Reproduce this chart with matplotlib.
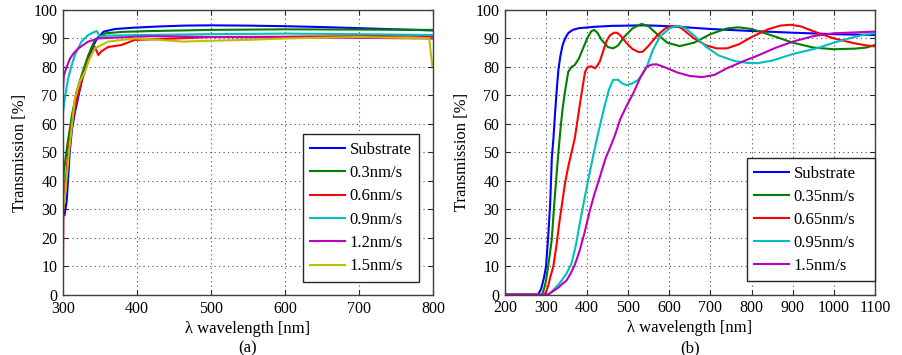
import matplotlib
matplotlib.use("Agg")
import matplotlib.pyplot as plt

plt.rcParams['font.family'] = ['Liberation Serif', 'DejaVu Serif']
plt.rcParams['font.size'] = 12

# MATLAB default line colours
colors = ["#0000ff", "#008000", "#ff0000", "#00bfbf", "#bf00bf", "#bfbf00"]

# ---- panel (a): deposition rates 0.3 - 1.5 nm/s ----
labels_a = ["Substrate", "0.3nm/s", "0.6nm/s", "0.9nm/s", "1.2nm/s", "1.5nm/s"]

wl_a_sub = [302, 305, 309, 312, 316, 321, 327, 334, 340, 346, 355, 370, 397, 430, 463, 500, 550, 600, 650, 700, 750, 800]
t_a_sub = [28, 33, 50, 58, 64, 70, 77, 83, 87, 90, 92.4, 93.3, 93.8, 94.2, 94.5, 94.6, 94.5, 94.3, 94.0, 93.6, 93.2, 92.8]

wl_a_03 = [300, 301, 302, 306, 312, 318, 325, 334, 343, 357, 380, 420, 500, 600, 700, 800]
t_a_03 = [33, 43, 45, 53, 63, 71, 77, 84, 89.5, 91.8, 92.3, 92.6, 93.0, 93.2, 93.1, 93.0]

wl_a_06 = [300, 300.5, 303, 307, 312, 318, 325, 334, 343, 347.7, 352, 361, 379, 397, 435, 500, 600, 700, 769, 800]
t_a_06 = [10, 30, 38, 50, 60, 68, 75, 82, 87, 84.2, 85.5, 87, 87.7, 89.5, 89.8, 90.5, 90.6, 90.8, 91.0, 90.8]

wl_a_09 = [300, 303, 307, 311, 316, 325, 334, 340, 345.5, 350, 360, 400, 500, 600, 700, 800]
t_a_09 = [64, 70, 76, 80, 84.2, 88.9, 91.2, 92.0, 92.6, 90.6, 91.0, 91.2, 91.5, 91.7, 91.5, 91.2]

wl_a_12 = [300, 301, 305, 309.5, 315, 320.7, 334, 347.7, 370, 420, 500, 600, 700, 800]
t_a_12 = [72, 77, 80, 83, 85, 86.5, 88.9, 90.0, 90.3, 90.8, 90.5, 90.3, 90.2, 90.0]

wl_a_15 = [300, 302.7, 308, 316, 323, 329.7, 336, 343, 361, 397, 430, 462, 500, 550, 600, 700, 795, 797, 799]
t_a_15 = [30, 34.5, 50, 69, 75, 78.4, 83, 86.5, 88.9, 90.0, 89.5, 88.9, 89.2, 89.5, 90.0, 90.5, 90.0, 85.0, 80.5]

# ---- panel (b): deposition rates 0.35 - 1.5 nm/s ----
labels_b = ["Substrate", "0.35nm/s", "0.65nm/s", "0.95nm/s", "1.5nm/s"]

wl_b_sub = [200, 280, 288, 295, 300, 305, 310, 314, 318, 322, 326, 330, 335, 340, 345, 350, 355, 365, 380,
            420, 460, 500, 540, 580, 620, 700, 800, 900, 1000, 1100]
t_b_sub = [0, 0, 2, 6, 10, 20, 32, 48, 55, 64, 72, 79, 84, 87.5, 89.5, 91, 92, 93, 93.6,
           94.1, 94.4, 94.5, 94.6, 94.4, 94.1, 93.3, 92.6, 92.0, 91.5, 91.2]

wl_b_035 = [200, 290, 295, 300, 307, 313.6, 320, 326, 330, 335, 340, 346, 354, 362, 370, 380, 390, 400, 410,
            417, 425, 435, 450, 463, 475, 490, 510, 532, 550, 570, 595, 625, 660, 700, 740, 768, 800, 850,
            900, 950, 1000, 1050, 1080, 1100]
t_b_035 = [0, 0, 2, 5, 12, 19, 32, 43, 50, 58, 65, 71.3, 78.3, 80, 80.7, 83, 86.5, 90, 92.5,
           93, 92, 89.5, 87, 86.5, 87.5, 90.5, 93.5, 95.1, 94.2, 91.5, 88.5, 87.3, 88.5, 91.5, 93.5, 93.9, 93.3, 91,
           88.5, 86.8, 86.2, 86.4, 86.8, 87.7]

wl_b_065 = [200, 295, 300, 305, 310, 317.5, 325, 332, 338, 346, 354, 362, 370, 382, 390, 395, 402, 410, 419,
            425, 431, 440, 447, 455, 465, 472, 480, 495, 510, 525, 535, 550, 570, 590, 605, 618, 630, 660,
            690, 715, 740, 770, 800, 840, 870, 895, 920, 960, 1000, 1050, 1080, 1100]
t_b_065 = [0, 0, 1, 3, 6, 9.8, 17, 25, 31, 39, 45, 50, 55, 66.6, 74, 78.3, 80, 80.2, 79.5,
           80.5, 82, 86, 89, 91, 92, 92, 91.2, 88.5, 86.3, 85.2, 85.3, 87.5, 91, 93.5, 94.3, 94.4, 93.5, 90,
           87.5, 86.5, 86.5, 88, 90.5, 93.2, 94.5, 94.8, 94.2, 92, 90, 88.3, 87.5, 87.2]

wl_b_095 = [200, 305, 310, 320, 330, 338, 350, 362, 372, 382, 392, 402, 415, 423, 432, 443, 453, 463, 475,
            485, 496, 510, 524, 535, 545, 560, 577, 600, 615, 626, 640, 660, 690, 720, 760, 790, 815, 850,
            900, 958, 1000, 1050, 1071, 1100]
t_b_095 = [0, 0, 0.5, 2, 3.5, 5, 7.5, 11, 17, 25, 32.5, 40, 49, 54.3, 60, 66.6, 72, 75.4, 75.5,
           74.2, 73.6, 74.2, 75.4, 77.5, 80, 86, 90.6, 93.5, 94.3, 94.3, 93.5, 91, 87, 84, 82, 81.4, 81.3, 82.2,
           84.5, 86.5, 88.5, 90.5, 91.2, 91.8]

wl_b_15 = [200, 305, 309.5, 320, 330, 340, 350, 360, 370, 382, 394, 406.8, 418, 431, 445, 455, 467.6, 480,
           495, 512, 530, 544.7, 557, 569, 590, 620, 650, 680, 710, 740, 780, 812, 860, 901, 950, 1000,
           1050, 1100]
t_b_15 = [0, 0, 0.5, 1.5, 2.5, 3.8, 5, 7.5, 10.5, 15.6, 22, 29.7, 35.5, 41.4, 48, 51.4, 56, 61.5,
          66, 70.7, 76.5, 80, 80.8, 80.9, 79.8, 78, 76.8, 76.4, 77.2, 79.5, 82, 83.8, 86.8, 88.9, 90.8, 91.8,
          92.1, 92.4]

series_a = [(wl_a_sub, t_a_sub), (wl_a_03, t_a_03), (wl_a_06, t_a_06),
            (wl_a_09, t_a_09), (wl_a_12, t_a_12), (wl_a_15, t_a_15)]
series_b = [(wl_b_sub, t_b_sub), (wl_b_035, t_b_035), (wl_b_065, t_b_065),
            (wl_b_095, t_b_095), (wl_b_15, t_b_15)]

fig = plt.figure(figsize=(9.03, 3.55), dpi=100)
ax_a = fig.add_axes([0.0698, 0.169, 0.4097, 0.803])
ax_b = fig.add_axes([0.5592, 0.170, 0.4097, 0.802])


def style_axes(ax, xlim, xticks, sub):
    ax.set_xlim(*xlim)
    ax.set_ylim(0, 100)
    ax.set_xticks(xticks)
    ax.set_yticks(range(0, 101, 10))
    ax.tick_params(direction='in', top=True, right=True, length=3.5, width=0.8,
                   colors='0.15', labelcolor='black', labelsize=11.5)
    ax.tick_params(axis='x', pad=4)
    ax.tick_params(axis='y', pad=4)
    for sp in ax.spines.values():
        sp.set_color('0.25')
        sp.set_linewidth(1.0)
    ax.grid(True, color='0.3', linestyle=(0, (1, 3)), linewidth=0.8)
    ax.set_axisbelow(True)
    ax.set_ylabel("Transmission [%]", labelpad=4)
    ax.set_xlabel("\u03bb wavelength [nm]\n" + sub, labelpad=3, linespacing=1.3)


for (wl, t), c, lab in zip(series_a, colors, labels_a):
    ax_a.plot(wl, t, color=c, lw=1.5, label=lab)
style_axes(ax_a, (300, 800), range(300, 801, 100), "(a)")
leg = ax_a.legend(loc='lower right', bbox_to_anchor=(0.962, 0.046), borderaxespad=0,
                  fancybox=False, framealpha=1, edgecolor='0.15', handlelength=2.1,
                  handletextpad=0.25, labelspacing=0.44, borderpad=0.45)
leg.get_frame().set_linewidth(1.0)

for (wl, t), c, lab in zip(series_b, colors, labels_b):
    ax_b.plot(wl, t, color=c, lw=1.5, label=lab)
style_axes(ax_b, (200, 1100), range(200, 1101, 100), "(b)")
# legend box in (b) is wider than its text, as in the original
leg = ax_b.legend(loc='lower left', bbox_to_anchor=(0.654, 0.047, 0.346, 0.3), mode='expand',
                  borderaxespad=0, fancybox=False, framealpha=1, edgecolor='0.15',
                  handlelength=2.1, handletextpad=0.25, labelspacing=0.42, borderpad=0.45)
leg.get_frame().set_linewidth(1.0)

fig.savefig("out.png", dpi=100)
